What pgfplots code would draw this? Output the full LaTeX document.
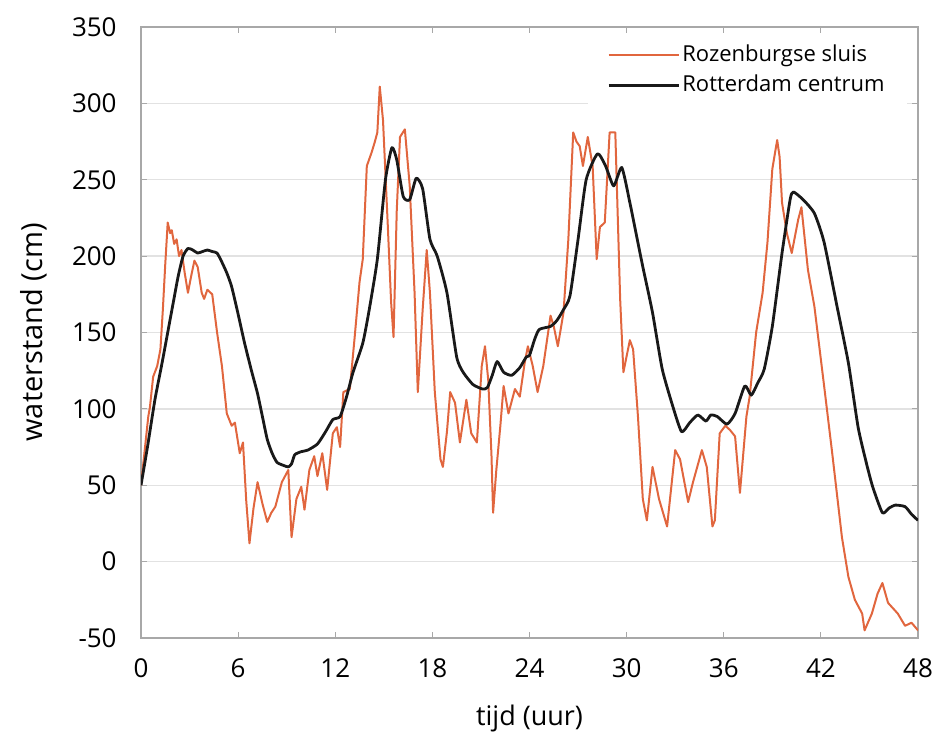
\documentclass[border=0pt]{standalone}
\usepackage{fontspec}
\setmainfont{Open Sans}
\usepackage{pgfplots}
\pgfplotsset{compat=1.18}

\definecolor{sluis}{RGB}{225,102,62}
\definecolor{centrum}{RGB}{25,25,25}
\definecolor{framec}{RGB}{168,168,168}
\definecolor{gridc}{RGB}{226,226,226}

% water levels (cm) against time (hours)
\pgfplotstableread{
t v
0 50
0.25 75
0.45 95
0.55 101
0.75 121
1.0 128
1.2 139
1.35 165
1.5 195
1.65 222
1.8 215
1.9 217
2.05 208
2.2 211
2.35 200
2.5 204
2.7 189
2.9 176
3.1 187
3.3 197
3.5 193
3.75 176
3.9 172
4.1 178
4.4 175
4.7 150
5.0 128
5.3 97
5.6 89
5.8 91
6.1 71
6.3 78
6.5 40
6.7 12
6.95 35
7.2 52
7.5 38
7.8 26
8.05 32
8.3 36
8.7 52
9.1 60
9.3 16
9.6 41
9.9 49
10.1 34
10.4 60
10.7 69
10.9 56
11.2 71
11.5 47
11.85 84
12.1 88
12.3 75
12.5 111
12.9 113
13.2 147
13.5 183
13.7 198
13.95 259
14.25 268
14.45 275
14.6 281
14.75 311
14.95 289
15.25 219
15.45 170
15.6 147
15.8 230
16.0 278
16.3 283
16.6 246
16.9 176
17.1 111
17.4 165
17.65 204
17.85 176
18.15 111
18.5 67
18.65 62
18.9 85
19.1 111
19.4 104
19.7 78
20.1 106
20.4 84
20.75 78
21.05 128
21.25 141
21.45 119
21.65 70
21.75 32
21.95 60
22.2 89
22.4 115
22.7 97
23.1 113
23.4 108
23.7 130
23.9 141
24.2 128
24.5 111
24.85 128
25.3 161
25.5 154
25.75 141
26.1 163
26.4 211
26.7 281
26.9 275
27.1 272
27.3 259
27.6 278
27.9 259
28.15 198
28.35 219
28.65 222
28.95 281
29.3 281
29.6 172
29.8 124
30.2 145
30.4 139
30.7 95
31.0 41
31.25 27
31.6 62
32.0 41
32.5 23
33.0 73
33.3 67
33.8 39
34.1 52
34.65 73
34.95 62
35.3 23
35.45 27
35.75 84
36.1 89
36.4 86
36.7 82
37.0 45
37.4 95
37.6 108
38.0 150
38.4 176
38.7 209
39.0 257
39.3 276
39.45 265
39.6 235
39.9 215
40.2 202
40.6 224
40.8 232
41.2 191
41.6 167
42.2 115
42.7 71
43.3 16
43.7 -10
44.1 -25
44.55 -34
44.7 -45
45.15 -34
45.5 -21
45.8 -14
46.15 -27
46.75 -34
47.2 -42
47.6 -40
48 -45
}\rozenburg

\pgfplotstableread{
t v
0 50
0.4 75
0.86 106
1.3 130
1.65 150
2.0 170
2.3 187
2.6 200
2.9 205
3.2 204
3.5 202
3.8 203
4.1 204
4.4 203
4.7 202
5.0 196
5.3 189
5.6 180
6.0 162
6.4 143
6.8 126
7.2 110
7.5 95
7.8 80
8.1 71
8.4 65
8.8 63
9.1 62
9.3 64
9.5 70
9.9 72
10.3 73
10.9 77
11.4 85
11.85 93
12.3 95
12.7 108
13.1 124
13.7 143
14.1 165
14.6 198
15.1 250
15.5 271
15.8 263
16.2 239
16.6 237
17.0 251
17.4 244
17.85 211
18.3 200
18.9 176
19.5 134
19.9 124
20.5 116
21.1 113
21.4 114
21.7 122
22.0 131
22.4 124
22.9 122
23.4 127
23.8 134
24.0 135
24.3 145
24.6 152
25.3 154
25.7 158
26.1 165
26.5 174
27.0 211
27.5 250
28.2 267
28.7 259
29.2 246
29.7 258
30.2 235
30.6 214
31.0 193
31.6 163
32.2 126
32.9 100
33.4 85
33.9 91
34.4 96
34.9 92
35.2 96
35.6 95
36.2 90
36.7 97
37.3 115
37.7 109
38.1 117
38.5 126
39.0 154
39.6 202
40.1 237
40.3 242
40.9 237
41.6 228
42.2 209
43.0 167
43.7 130
44.3 88
44.8 65
45.2 49
45.8 32
46.2 35
46.6 37
47.2 36
47.6 31
48 27
}\centrum

\begin{document}
\begin{tikzpicture}
\useasboundingbox (0,0) rectangle (468pt,367.5pt);
\begin{axis}[
  at={(70.5pt,48.5pt)}, anchor=south west,
  scale only axis, width=388.5pt, height=305.5pt,
  xmin=0, xmax=48, ymin=-50, ymax=350,
  xtick={0,6,...,48}, ytick={-50,0,...,350},
  tick align=inside, major tick length=3pt,
  tick style={draw=framec, line width=0.6pt},
  axis line style={draw=framec, line width=0.9pt},
  ymajorgrids, major grid style={draw=gridc, line width=0.7pt},
  /pgf/number format/assume math mode=true,
  tick label style={font=\fontsize{13}{15}\selectfont, inner sep=0pt},
  yticklabel style={xshift=-12pt},
  xticklabel style={yshift=-10pt},
  xlabel={tijd (uur)}, ylabel={waterstand (cm)},
  every axis x label/.style={at={([yshift=-43.5pt]axis description cs:0.5,0)}, anchor=base, font=\fontsize{13.5}{16}\selectfont},
  every axis y label/.style={at={([xshift=-49pt]axis description cs:0,0.5)}, rotate=90, anchor=base, font=\fontsize{14.5}{17}\selectfont},
  legend style={at={(1,1)}, anchor=north east, xshift=-5.5pt, yshift=-4pt,
    draw=none, fill=white, font=\fontsize{11}{13}\selectfont,
    inner xsep=10pt, inner ysep=3.5pt, row sep=2pt,
    nodes={inner sep=1pt, text height=8.5pt, text depth=2.5pt}},
  legend cell align=left,
  legend image code/.code={\draw[#1] (0pt,0pt) -- (25pt,0pt); \path (0pt,0pt) -- (35pt,0pt);},
]
\addplot[sluis, line width=1pt, line join=round] table[x=t, y=v] {\rozenburg};
\addlegendentry{Rozenburgse sluis}
\addplot[centrum, line width=1.4pt, line join=round, smooth, tension=0.35] table[x=t, y=v] {\centrum};
\addlegendentry{Rotterdam centrum}
\end{axis}
\end{tikzpicture}
\end{document}
